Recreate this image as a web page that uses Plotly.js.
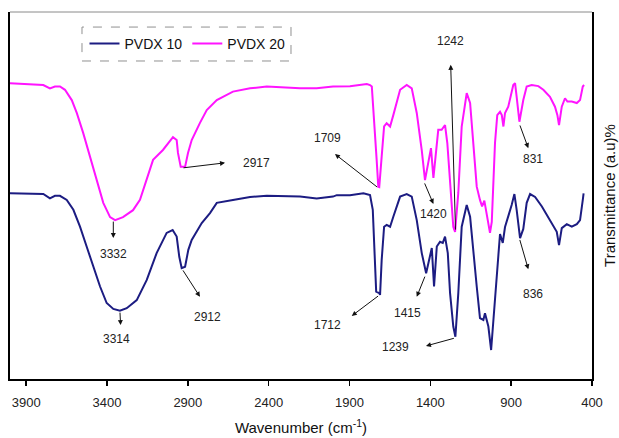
<!DOCTYPE html>
<html>
<head>
<meta charset="utf-8">
<script src="https://cdn.plot.ly/plotly-3.0.1.min.js"></script>
<style>
  html, body { margin: 0; padding: 0; background: #fff; }
  #chart { width: 619px; height: 438px; }
</style>
</head>
<body>
<div id="chart"></div>
<script>
// ---- Data (wavenumber in cm^-1, transmittance in arbitrary units) ----
const seriesNames = ["PVDX 10", "PVDX 20"];

const pvdx20Wavenumber = [4000,3794,3753,3722,3691,3660,3618,3587,3547,3505,3464,3423,3381,3350,3301,3239,3196,3154,3115,3054,2992,2969,2961,2944,2917,2899,2876,2825,2783,2721,2621,2515,2412,2206,2103,2002,1897,1793,1773,1762,1748,1732,1722,1716,1701,1686,1670,1649,1629,1587,1546,1515,1484,1453,1433,1412,1396,1381,1360,1351,1330,1309,1295,1278,1258,1247,1227,1206,1175,1154,1134,1113,1093,1080,1066,1051,1031,1020,1010,1000,986,969,958,948,938,918,887,876,866,849,825,804,773,732,701,660,629,614,604,587,567,552,525,494,474,457,449];
const pvdx20T = [80.6,80.1,79.2,79.7,79.7,78.8,76.0,72.5,67.0,60.5,54.2,48.0,44.1,43.3,44.1,46.0,48.8,54.2,59.7,62.4,65.9,65.1,61.6,57.8,57.8,61.6,65.1,69.8,73.3,76.0,78.3,79.2,79.7,79.2,79.2,79.7,79.8,80.4,80.1,79.7,71.5,59.7,52.4,52.3,60.6,68.8,69.7,68.8,71.9,78.8,80.1,79.2,72.5,62.3,54.2,58.9,62.9,54.8,65.1,67.9,67.9,69.2,64.3,52.4,41.5,40.1,50.7,68.8,77.9,75.2,63.3,52.4,48.8,47.0,48.6,45.2,39.8,42.8,55.1,64.3,71.9,72.8,71.9,68.8,72.5,74.2,80.1,80.6,76.9,70.1,76.0,79.7,80.1,79.8,78.8,76.9,74.2,71.9,69.2,74.2,76.5,75.6,75.6,75.2,76.0,79.7,80.1];

const pvdx10Wavenumber = [4000,3794,3753,3722,3691,3649,3608,3567,3526,3485,3443,3402,3361,3320,3278,3216,3154,3093,3031,2994,2969,2953,2938,2917,2897,2876,2814,2763,2721,2621,2515,2412,2206,2103,2002,1979,1897,1814,1773,1756,1745,1735,1716,1711,1701,1686,1670,1649,1629,1587,1546,1515,1484,1453,1426,1406,1391,1377,1360,1340,1323,1309,1292,1278,1258,1245,1227,1206,1175,1154,1134,1113,1093,1072,1062,1041,1024,1010,989,969,952,938,897,880,866,845,825,804,783,752,710,660,618,604,587,556,525,494,474,457,452];
const pvdx10T = [50.6,50.4,49.2,49.9,49.9,48.8,46.1,41.5,36.1,30.6,25.2,20.7,19.1,18.6,19.3,21.5,27.0,34.3,39.8,40.6,38.8,33.3,30.2,30.6,35.2,37.9,42.5,45.2,48.0,48.8,49.6,49.9,49.7,49.2,49.7,50.1,50.1,50.6,50.1,46.1,33.8,23.8,23.4,22.9,32.4,41.5,42.0,41.5,44.2,49.7,50.4,49.7,43.3,34.3,28.8,33.3,35.7,25.2,36.1,37.4,37.1,38.8,34.3,23.4,14.3,11.5,23.4,41.5,47.4,44.2,34.3,25.2,16.6,16.1,17.9,14.3,7.9,16.1,29.7,39.5,37.1,41.4,47.4,50.4,46.1,38.4,40.9,48.0,50.4,49.6,47.0,43.1,40.1,36.5,41.1,42.2,41.5,42.2,43.3,48.8,50.6];

const xTickValues = [3900, 3400, 2900, 2400, 1900, 1400, 900, 400];

// Peak labels: text, arrow tail (at peak) and arrow head, label centre
const peakLabels = ["3332", "3314", "2917", "2912", "1709", "1712", "1420", "1415", "1242", "1239", "831", "836"];
const peakCallouts = [
  {tail: [3361, 43.3], head: [3361, 38.4], label: [3357, 34.1]},
  {tail: [3320, 18.5], head: [3316, 14.7], label: [3344, 10.9]},
  {tail: [2936, 57.5], head: [2670, 58.9], label: [2478, 58.9]},
  {tail: [2936, 30.0], head: [2825, 22.4], label: [2781, 17.0]},
  {tail: [1720, 52.0], head: [1990, 61.3], label: [2039, 65.7]},
  {tail: [1714, 22.9], head: [1886, 17.2], label: [2037, 14.7]},
  {tail: [1439, 53.7], head: [1381, 47.7], label: [1381, 45.0]},
  {tail: [1430, 28.3], head: [1484, 22.4], label: [1544, 18.1]},
  {tail: [1244, 40.3], head: [1274, 85.6], label: [1278, 92.2]},
  {tail: [1245, 11.2], head: [1427, 9.0],  label: [1618, 8.6]},
  {tail: [849, 69.5],  head: [794, 62.9],  label: [767, 59.9]},
  {tail: [849, 38.3],  head: [794, 29.9],  label: [763, 23.2]}
];

const FONT = "Arial, 'Liberation Sans', sans-serif";

const traces = [
  {x: pvdx10Wavenumber, y: pvdx10T, name: seriesNames[0], type: "scatter", mode: "lines",
   line: {color: "#1c1c82", width: 2}},
  {x: pvdx20Wavenumber, y: pvdx20T, name: seriesNames[1], type: "scatter", mode: "lines",
   line: {color: "#ff14ff", width: 2}}
];

const annotations = [];
peakCallouts.forEach((c, i) => {
  annotations.push({
    x: c.head[0], y: c.head[1], ax: c.tail[0], ay: c.tail[1],
    xref: "x", yref: "y", axref: "x", ayref: "y",
    text: "", showarrow: true, arrowhead: 2, arrowsize: 1, arrowwidth: 1,
    arrowcolor: "#111", standoff: 0, startstandoff: 0
  });
  annotations.push({
    x: c.label[0], y: c.label[1], xref: "x", yref: "y",
    text: peakLabels[i], showarrow: false,
    font: {family: FONT, size: 12, color: "#222"}
  });
});

const layout = {
  width: 619, height: 438,
  margin: {l: 10, r: 27, t: 12, b: 59},
  paper_bgcolor: "#fff", plot_bgcolor: "#fff",
  showlegend: true,
  legend: {
    orientation: "h", x: 0.128, xanchor: "left", y: 0.913, yanchor: "middle",
    bgcolor: "rgba(0,0,0,0)", borderwidth: 0,
    font: {family: FONT, size: 14, color: "#111"}
  },
  xaxis: {
    range: [4000, 400], tickmode: "array", tickvals: xTickValues,
    ticktext: xTickValues.map(String),
    ticks: "outside", ticklen: 5, tickwidth: 1.5, tickcolor: "#000",
    showline: true, linecolor: "#000", linewidth: 2, mirror: false,
    showgrid: false, zeroline: false,
    tickfont: {family: FONT, size: 13, color: "#222"},
    ticklabelstandoff: 5,
    title: {text: "Wavenumber (cm<sup>-1</sup>)", font: {family: FONT, size: 15, color: "#111"}, standoff: 14}
  },
  yaxis: {
    range: [0, 100], side: "right", showticklabels: false, ticks: "",
    showline: true, linecolor: "#000", linewidth: 2, mirror: true,
    showgrid: false, zeroline: false,
    title: {text: "Transmittance (a.u)%", font: {family: FONT, size: 15, color: "#111"}, standoff: 11}
  },
  shapes: [
    {type: "line", xref: "paper", yref: "paper", x0: 0, x1: 1, y0: 1, y1: 1,
     line: {color: "#8a8a8a", width: 1}},
    {type: "rect", xref: "paper", yref: "paper", x0: 0.1237, x1: 0.4828, y0: 0.8665, y1: 0.959,
     line: {color: "#909090", width: 1, dash: "dash"}, fillcolor: "rgba(0,0,0,0)"}
  ],
  annotations: annotations
};

Plotly.newPlot("chart", traces, layout, {displayModeBar: false, staticPlot: true});
</script>
</body>
</html>
